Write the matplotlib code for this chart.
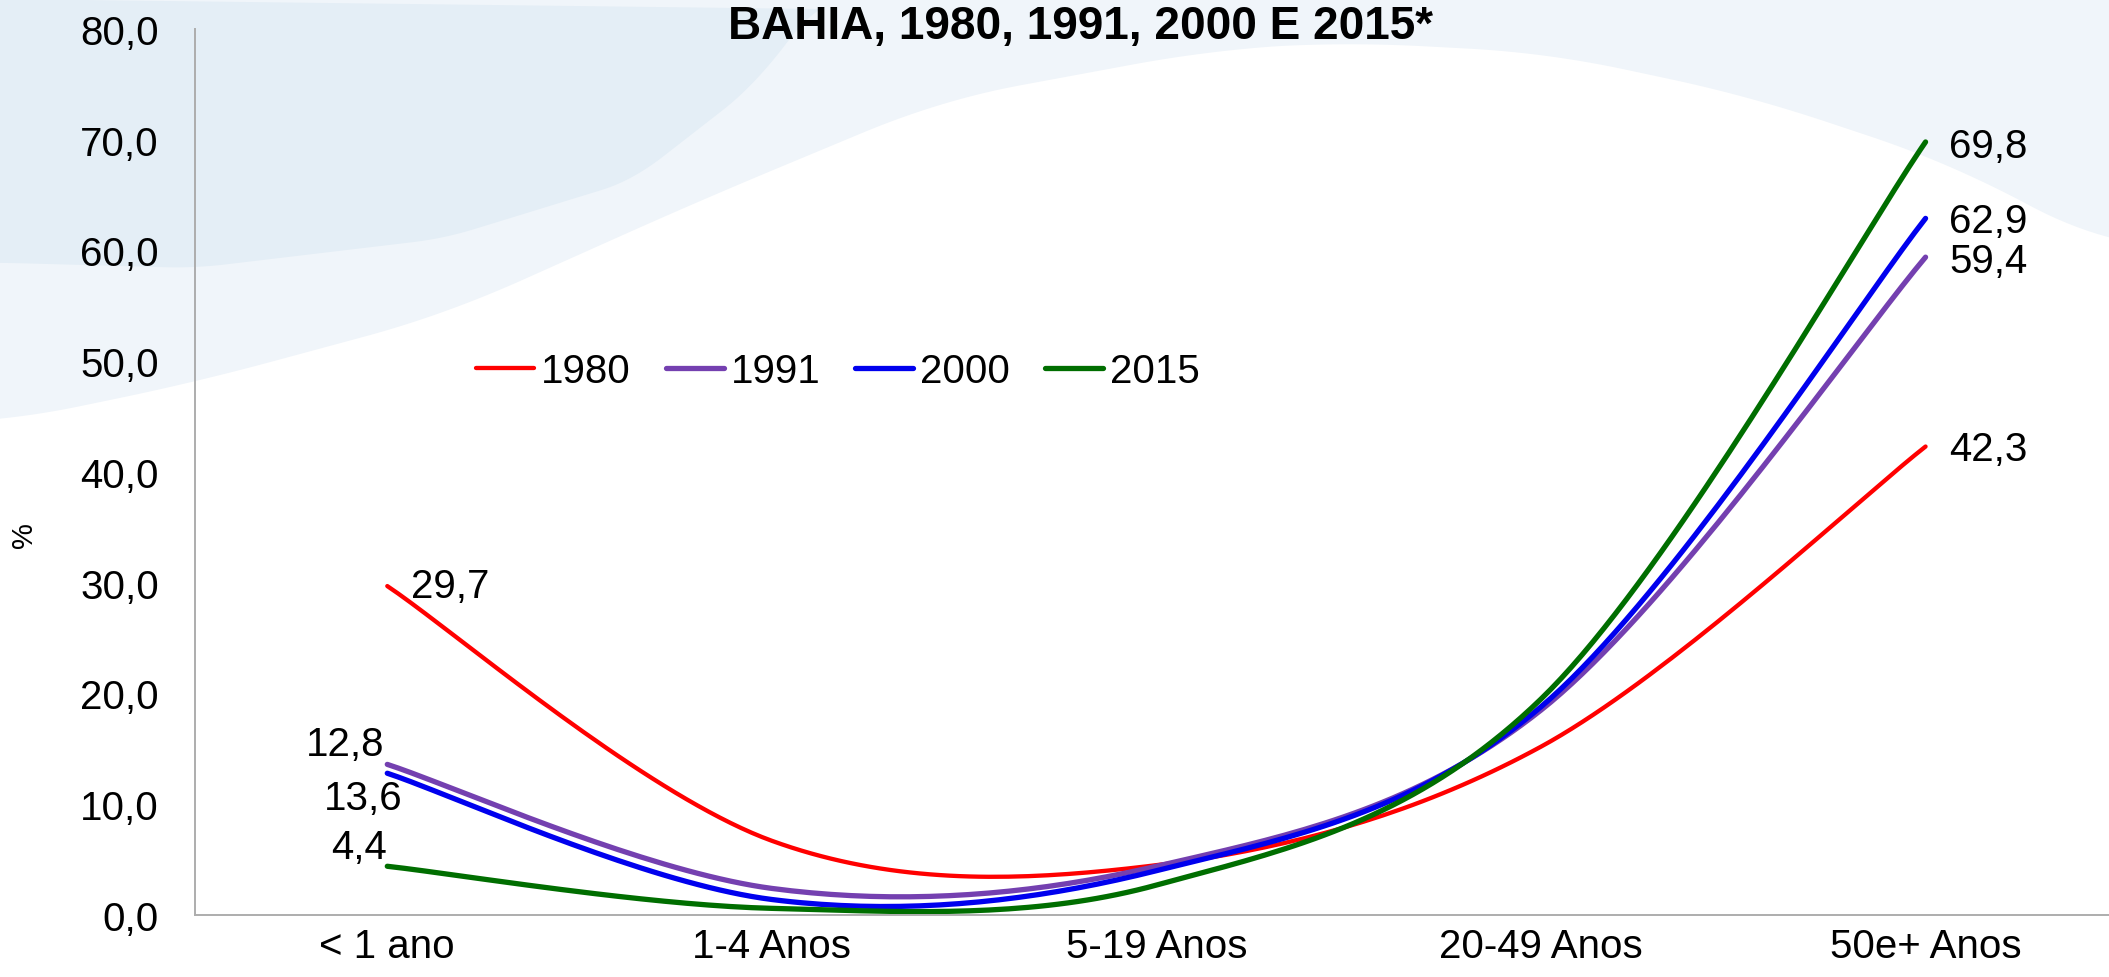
import numpy as np
import matplotlib
matplotlib.use('Agg')
import matplotlib.pyplot as plt
from matplotlib.patches import Polygon
from matplotlib.ticker import FuncFormatter

plt.rcParams['font.family'] = ['Liberation Sans', 'DejaVu Sans']

# data
categories = ['< 1 ano', '1-4 Anos', '5-19 Anos', '20-49 Anos', '50e+ Anos']
years = ['1980', '1991', '2000', '2015']
v1980 = [29.7, 6.7, 4.5, 15.2, 42.3]
v1991 = [13.6, 2.4, 4.4, 18.5, 59.4]
v2000 = [12.8, 1.4, 4.0, 18.8, 62.9]
v2015 = [4.4, 0.6, 2.7, 19.5, 69.8]
colors = ['#FF0000', '#7440B0', '#0000EE', '#006E00']
widths = [3.1, 3.8, 3.8, 3.8]
title = 'BAHIA, 1980, 1991, 2000 E 2015*'


def smooth(y, n=40):
    # catmull-rom, close to excel's smoothed line
    x = np.arange(len(y), dtype=float)
    y = np.asarray(y, dtype=float)
    px = np.concatenate([[x[0]], x, [x[-1]]])
    py = np.concatenate([[y[0]], y, [y[-1]]])
    xs, ys = [], []
    t = np.linspace(0, 1, n)
    for i in range(1, len(px) - 2):
        for p, out in ((px, xs), (py, ys)):
            p0, p1, p2, p3 = p[i - 1], p[i], p[i + 1], p[i + 2]
            c1 = p1 + (p2 - p0) / 6
            c2 = p2 - (p3 - p1) / 6
            out.extend((1 - t) ** 3 * p1 + 3 * (1 - t) ** 2 * t * c1
                       + 3 * (1 - t) * t ** 2 * c2 + t ** 3 * p2)
    return np.array(xs), np.array(ys)


fig = plt.figure(figsize=(21.09, 9.78), dpi=100)
fig.patch.set_facecolor('white')

# soft blue background swoosh
def band(pts, top_pts, color):
    pts = np.array(pts, dtype=float)
    xx = np.linspace(pts[0, 0], pts[-1, 0], 200)
    yy = np.interp(xx, pts[:, 0], pts[:, 1])
    k = np.ones(15) / 15
    yy = np.convolve(np.pad(yy, 7, mode='edge'), k, mode='valid')
    poly = list(zip(xx / 1568, 1 - yy / 727)) + top_pts
    fig.add_artist(Polygon(poly, closed=True, transform=fig.transFigure,
                           facecolor=color, edgecolor='none', zorder=-10))

band([(0, 315), (145, 285), (330, 235), (520, 150), (700, 75), (900, 38),
      (1000, 32), (1150, 40), (1300, 72), (1450, 122), (1568, 185)],
     [(1, 1), (0, 1)], '#F0F5FA')
band([(0, 196), (145, 200), (330, 178), (470, 135), (560, 65), (610, 0)],
     [(0, 1)], '#E4EEF6')

ax = fig.add_axes([195 / 2109, 1 - 916 / 978, 1 - 195 / 2109, (916 - 30) / 978])
ax.set_facecolor('none')

series = [v1980, v1991, v2000, v2015]
for vals, lab, col, lw in zip(series, years, colors, widths):
    xs, ys = smooth(vals)
    ax.plot(xs, ys, color=col, lw=lw, label=lab, solid_capstyle='round')

ax.set_xlim(-0.5, 4.477)
ax.set_ylim(0, 80)
ax.set_yticks(np.arange(0, 81, 10))
ax.yaxis.set_major_formatter(FuncFormatter(lambda v, p: f'{v:.1f}'.replace('.', ',')))
ax.set_xticks(range(len(categories)))
ax.set_xticklabels(categories)
ax.tick_params(axis='both', length=0, labelsize=29)
ax.tick_params(axis='y', pad=26)
ax.tick_params(axis='x', pad=9)
for s in ['top', 'right']:
    ax.spines[s].set_visible(False)
for s in ['left', 'bottom']:
    ax.spines[s].set_color('#ADADAD')
    ax.spines[s].set_linewidth(1.4)

fmt = lambda v: f'{v:.1f}'.replace('.', ',')
# data labels at first and last points
first_off = [(17, 0, 'left'), (11, -24, 'right'), (-2, 21, 'right'), (0, 14, 'right')]
for vals, (dx, dy, ha) in zip(series, first_off):
    ax.annotate(fmt(vals[0]), (0, vals[0]), xytext=(dx, dy), textcoords='offset points',
                ha=ha, va='center', fontsize=29)
last_off = [-2, -3, -2, -3]
for vals, dy in zip(series, last_off):
    ax.annotate(fmt(vals[-1]), (4, vals[-1]), xytext=(17, dy), textcoords='offset points',
                ha='left', va='center', fontsize=29)

ax.legend(loc='center left', bbox_to_anchor=(476 / 2109, 1 - 372 / 978),
          bbox_transform=fig.transFigure, ncol=4, frameon=False, fontsize=29,
          handlelength=1.44, handletextpad=0.17, columnspacing=0.87,
          borderpad=0, borderaxespad=0)

fig.text(24 / 2109, 1 - 535 / 978, '%', rotation=90, ha='center', va='center', fontsize=21)
fig.text(1081 / 2109, 1 - 39 / 978, title, ha='center', va='baseline',
         fontsize=33, fontweight='bold')

fig.savefig('out.png', dpi=100)
